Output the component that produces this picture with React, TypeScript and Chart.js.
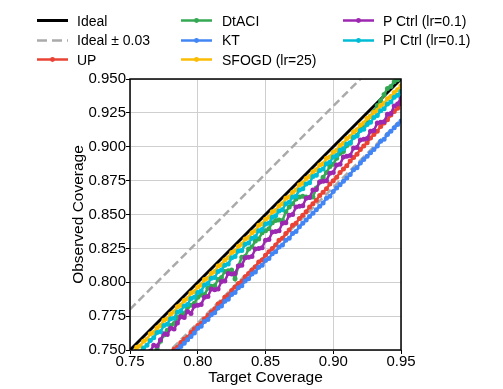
import React, { useEffect, useRef } from "react";
import { Chart, registerables } from "chart.js";
Chart.register(...registerables);

const TARGET = [
  0.75, 0.7525, 0.755, 0.7575, 0.76, 0.7625, 0.765, 0.7675, 0.77, 0.7725,
  0.775, 0.7775, 0.78, 0.7825, 0.785, 0.7875, 0.79, 0.7925, 0.795, 0.7975,
  0.8, 0.8025, 0.805, 0.8075, 0.81, 0.8125, 0.815, 0.8175, 0.82, 0.8225,
  0.825, 0.8275, 0.83, 0.8325, 0.835, 0.8375, 0.84, 0.8425, 0.845, 0.8475,
  0.85, 0.8525, 0.855, 0.8575, 0.86, 0.8625, 0.865, 0.8675, 0.87, 0.8725,
  0.875, 0.8775, 0.88, 0.8825, 0.885, 0.8875, 0.89, 0.8925, 0.895, 0.8975,
  0.9, 0.9025, 0.905, 0.9075, 0.91, 0.9125, 0.915, 0.9175, 0.92, 0.9225,
  0.925, 0.9275, 0.93, 0.9325, 0.935, 0.9375, 0.94, 0.9425, 0.945, 0.9475,
  0.95,
];

const IDEAL_X = [0.75, 0.95];
const IDEAL = [0.75, 0.95];
const IDEAL_UPPER = [0.78, 0.98];
const IDEAL_LOWER = [0.72, 0.92];

const UP = [
  0.717, 0.7195, 0.722, 0.7245, 0.727, 0.7295, 0.732, 0.7345, 0.738, 0.7395,
  0.743, 0.7445, 0.748, 0.7505, 0.752, 0.7555, 0.758, 0.7595, 0.763, 0.7655,
  0.768, 0.7695, 0.773, 0.7755, 0.778, 0.7805, 0.784, 0.7855, 0.789, 0.7905,
  0.794, 0.7965, 0.799, 0.8005, 0.804, 0.8065, 0.809, 0.8115, 0.815, 0.8165,
  0.82, 0.8225, 0.825, 0.8275, 0.831, 0.8325, 0.836, 0.8385, 0.842, 0.8435,
  0.847, 0.8495, 0.852, 0.8555, 0.858, 0.8605, 0.864, 0.8665, 0.869, 0.8725,
  0.875, 0.8775, 0.881, 0.8835, 0.886, 0.8895, 0.892, 0.8945, 0.898, 0.9005,
  0.903, 0.9065, 0.909, 0.9115, 0.915, 0.9175, 0.92, 0.9235, 0.926, 0.9285,
  0.932,
];

const DTACI = [
  0.725, 0.7285, 0.731, 0.7345, 0.738, 0.7405, 0.744, 0.7475, 0.751, 0.7565,
  0.761, 0.7645, 0.768, 0.7695, 0.774, 0.7755, 0.777, 0.7815, 0.783, 0.7845,
  0.789, 0.7905, 0.791, 0.7955, 0.797, 0.7975, 0.802, 0.8035, 0.808, 0.8085,
  0.809, 0.8025, 0.812, 0.8185, 0.819, 0.8245, 0.826, 0.8305, 0.832, 0.8365,
  0.838, 0.8395, 0.844, 0.8455, 0.846, 0.8455, 0.852, 0.8555, 0.858, 0.8615,
  0.863, 0.8635, 0.863, 0.8625, 0.863, 0.8695, 0.874, 0.8775, 0.881, 0.8855,
  0.887, 0.8915, 0.895, 0.8965, 0.901, 0.9025, 0.907, 0.9085, 0.913, 0.9145,
  0.919, 0.9225, 0.926, 0.9305, 0.934, 0.9385, 0.943, 0.9445, 0.948, 0.9495,
  0.951,
];

const KT = [
  0.714, 0.7165, 0.719, 0.7215, 0.724, 0.7265, 0.729, 0.7315, 0.734, 0.7365,
  0.74, 0.7415, 0.745, 0.7475, 0.75, 0.7525, 0.755, 0.7575, 0.76, 0.7625,
  0.766, 0.7675, 0.771, 0.7725, 0.776, 0.7775, 0.781, 0.7825, 0.786, 0.7875,
  0.791, 0.7925, 0.796, 0.7975, 0.801, 0.8025, 0.806, 0.8075, 0.811, 0.8125,
  0.816, 0.8175, 0.821, 0.8225, 0.826, 0.8275, 0.831, 0.8325, 0.836, 0.8375,
  0.841, 0.8435, 0.846, 0.8485, 0.851, 0.8535, 0.856, 0.8585, 0.862, 0.8635,
  0.867, 0.8695, 0.872, 0.8745, 0.877, 0.8795, 0.883, 0.8845, 0.888, 0.8905,
  0.893, 0.8955, 0.898, 0.9005, 0.904, 0.9055, 0.909, 0.9115, 0.914, 0.9165,
  0.919,
];

const SFOGD = [
  0.7465, 0.748, 0.752, 0.753, 0.7565, 0.758, 0.762, 0.763, 0.7665, 0.768,
  0.772, 0.773, 0.7765, 0.778, 0.782, 0.783, 0.7865, 0.788, 0.792, 0.793,
  0.7965, 0.798, 0.802, 0.803, 0.8065, 0.808, 0.812, 0.813, 0.8165, 0.818,
  0.822, 0.823, 0.8265, 0.828, 0.832, 0.833, 0.8365, 0.838, 0.842, 0.843,
  0.8465, 0.848, 0.852, 0.853, 0.8565, 0.858, 0.862, 0.863, 0.8665, 0.868,
  0.872, 0.873, 0.8765, 0.878, 0.8815, 0.883, 0.8865, 0.8875, 0.8915, 0.8925,
  0.896, 0.8975, 0.901, 0.9025, 0.906, 0.9075, 0.911, 0.9125, 0.916, 0.9175,
  0.921, 0.9225, 0.9255, 0.927, 0.9305, 0.932, 0.9355, 0.937, 0.94, 0.942,
  0.945,
];

const P_CTRL = [
  0.732, 0.7365, 0.736, 0.7405, 0.745, 0.7445, 0.749, 0.7535, 0.753, 0.7575,
  0.762, 0.7615, 0.766, 0.7655, 0.77, 0.7745, 0.774, 0.7785, 0.777, 0.7825,
  0.783, 0.7835, 0.789, 0.7895, 0.795, 0.7945, 0.795, 0.8005, 0.801, 0.8065,
  0.806, 0.8065, 0.812, 0.8125, 0.818, 0.8185, 0.819, 0.8245, 0.825, 0.8255,
  0.831, 0.8315, 0.837, 0.8375, 0.838, 0.8435, 0.844, 0.8495, 0.85, 0.8555,
  0.856, 0.8565, 0.862, 0.8625, 0.868, 0.8685, 0.874, 0.8745, 0.875, 0.8805,
  0.881, 0.8865, 0.887, 0.8925, 0.893, 0.8935, 0.899, 0.8995, 0.905, 0.9055,
  0.906, 0.9115, 0.912, 0.9175, 0.918, 0.9185, 0.924, 0.9245, 0.93, 0.9315,
  0.936,
];

const PI_CTRL = [
  0.74, 0.743, 0.746, 0.7485, 0.7515, 0.7535, 0.757, 0.759, 0.763, 0.7635,
  0.768, 0.769, 0.773, 0.7735, 0.778, 0.779, 0.7825, 0.7835, 0.788, 0.789,
  0.7925, 0.7935, 0.798, 0.799, 0.803, 0.8035, 0.808, 0.809, 0.8125, 0.8135,
  0.818, 0.819, 0.823, 0.8235, 0.828, 0.829, 0.8325, 0.8335, 0.838, 0.839,
  0.843, 0.8435, 0.848, 0.849, 0.8525, 0.8535, 0.858, 0.859, 0.863, 0.8635,
  0.868, 0.869, 0.8725, 0.8735, 0.878, 0.879, 0.8825, 0.8835, 0.8875, 0.8885,
  0.8925, 0.8935, 0.8975, 0.8985, 0.902, 0.903, 0.907, 0.908, 0.912, 0.913,
  0.9165, 0.918, 0.9215, 0.923, 0.9265, 0.928, 0.9315, 0.933, 0.9365, 0.938,
  0.941,
];

const X_TICKS = [0.75, 0.8, 0.85, 0.9, 0.95];
const Y_TICKS = [0.75, 0.775, 0.8, 0.825, 0.85, 0.875, 0.9, 0.925, 0.95];

const FONT = "'Liberation Sans', Arial, Helvetica, sans-serif";

type Series = { label: string; color: string; kind: "solid" | "dashed" | "marker"; xs: number[]; ys: number[]; width: number };

const SERIES: Series[] = [
  { label: "Ideal", color: "#000000", kind: "solid", xs: IDEAL_X, ys: IDEAL, width: 3 },
  { label: "Ideal ± 0.03", color: "#aaaaaa", kind: "dashed", xs: IDEAL_X, ys: IDEAL_UPPER, width: 2.5 },
  { label: "", color: "#aaaaaa", kind: "dashed", xs: IDEAL_X, ys: IDEAL_LOWER, width: 2.5 },
  { label: "UP", color: "#ea4335", kind: "marker", xs: TARGET, ys: UP, width: 2.5 },
  { label: "DtACI", color: "#34a853", kind: "marker", xs: TARGET, ys: DTACI, width: 2.5 },
  { label: "KT", color: "#4285f4", kind: "marker", xs: TARGET, ys: KT, width: 2.5 },
  { label: "SFOGD (lr=25)", color: "#fbbc04", kind: "marker", xs: TARGET, ys: SFOGD, width: 2.5 },
  { label: "P Ctrl (lr=0.1)", color: "#9c27b0", kind: "marker", xs: TARGET, ys: P_CTRL, width: 2.5 },
  { label: "PI Ctrl (lr=0.1)", color: "#00bcd4", kind: "marker", xs: TARGET, ys: PI_CTRL, width: 2.5 },
];

const LEGEND_COLS = [
  { lineX: 37, textX: 77 },
  { lineX: 181, textX: 222 },
  { lineX: 343, textX: 383 },
];
const LEGEND_ROWS = [20.5, 40, 59.5];

const framePlugin = {
  id: "frame",
  afterDraw(chart: any) {
    const { ctx, chartArea } = chart;
    ctx.save();
    ctx.strokeStyle = "#000";
    ctx.lineWidth = 1.5;
    ctx.strokeRect(chartArea.left, chartArea.top, chartArea.right - chartArea.left, chartArea.bottom - chartArea.top);
    ctx.restore();
  },
};

function LegendSample({ s }: { s: Series }) {
  return (
    <svg width={31} height={9} style={{ display: "block" }}>
      {s.kind === "dashed" ? (
        <line x1={0} y1={4.5} x2={31} y2={4.5} stroke={s.color} strokeWidth={2.5} strokeDasharray="10,5" />
      ) : (
        <line x1={0} y1={4.5} x2={31} y2={4.5} stroke={s.color} strokeWidth={s.kind === "solid" ? 3 : 2.5} />
      )}
      {s.kind === "marker" ? <circle cx={15.5} cy={4.5} r={2.4} fill={s.color} /> : null}
    </svg>
  );
}

export default function App() {
  const ref = useRef<HTMLCanvasElement | null>(null);

  useEffect(() => {
    if (!ref.current) return;
    const n = SERIES.length;
    const chart = new Chart(ref.current, {
      type: "line",
      data: {
        datasets: SERIES.map((s, i) => ({
          label: s.label,
          data: s.xs.map((x, j) => ({ x, y: s.ys[j] })),
          borderColor: s.color,
          backgroundColor: s.color,
          borderWidth: s.width,
          borderDash: s.kind === "dashed" ? [8, 4] : [],
          pointRadius: s.kind === "marker" ? 2.5 : 0,
          pointBorderWidth: 0,
          pointBackgroundColor: s.color,
          tension: 0,
          fill: false,
          clip: 0,
          order: n - i,
        })),
      },
      options: {
        animation: false,
        responsive: false,
        parsing: false,
        layout: { padding: { left: 0, right: 102, top: 79, bottom: 0 } },
        plugins: { legend: { display: false }, tooltip: { enabled: false } },
        scales: {
          x: {
            type: "linear",
            min: 0.75,
            max: 0.95,
            afterBuildTicks: (s: any) => {
              s.ticks = X_TICKS.map((v) => ({ value: v }));
            },
            afterFit: (s: any) => {
              s.height = 39;
            },
            ticks: {
              callback: (v: any) => Number(v).toFixed(2),
              font: { family: FONT, size: 15 },
              color: "#000",
              padding: -1,
              maxRotation: 0,
              autoSkip: false,
            },
            grid: { color: "#cfcfcf", lineWidth: 1, tickLength: 4, tickColor: "#000", tickWidth: 1 },
            border: { display: false },
            title: {
              display: true,
              text: "Target Coverage",
              font: { family: FONT, size: 15.5 },
              color: "#000",
              padding: { top: 0, bottom: 2 },
            },
          },
          y: {
            type: "linear",
            min: 0.75,
            max: 0.95,
            afterBuildTicks: (s: any) => {
              s.ticks = Y_TICKS.map((v) => ({ value: v }));
            },
            afterFit: (s: any) => {
              s.width = 130;
            },
            ticks: {
              callback: (v: any) => Number(v).toFixed(3),
              font: { family: FONT, size: 15 },
              color: "#000",
              padding: 0,
              autoSkip: false,
            },
            grid: { color: "#cfcfcf", lineWidth: 1, tickLength: 4, tickColor: "#000", tickWidth: 1 },
            border: { display: false },
            title: {
              display: true,
              text: "Observed Coverage",
              font: { family: FONT, size: 15.5 },
              color: "#000",
              padding: { top: 69, bottom: 0 },
            },
          },
        },
      },
      plugins: [framePlugin],
    } as any);
    return () => chart.destroy();
  }, []);

  const legendItems = SERIES.filter((s) => s.label !== "");

  return (
    <div style={{ position: "fixed", left: 0, top: 0, width: 503, height: 389, background: "#fff", overflow: "hidden" }}>
      <canvas ref={ref} width={503} height={389} style={{ position: "absolute", left: 0, top: 0, width: 503, height: 389 }} />
      {legendItems.map((s, k) => {
        const col = LEGEND_COLS[Math.floor(k / 3)];
        const rowY = LEGEND_ROWS[k % 3];
        return (
          <React.Fragment key={s.label}>
            <div style={{ position: "absolute", left: col.lineX, top: rowY - 4.5 }}>
              <LegendSample s={s} />
            </div>
            <div
              style={{
                position: "absolute",
                left: col.textX,
                top: rowY - 8,
                height: 16,
                lineHeight: "16px",
                fontFamily: FONT,
                fontSize: 14,
                color: "#000",
                whiteSpace: "nowrap",
              }}
            >
              {s.label}
            </div>
          </React.Fragment>
        );
      })}
    </div>
  );
}
